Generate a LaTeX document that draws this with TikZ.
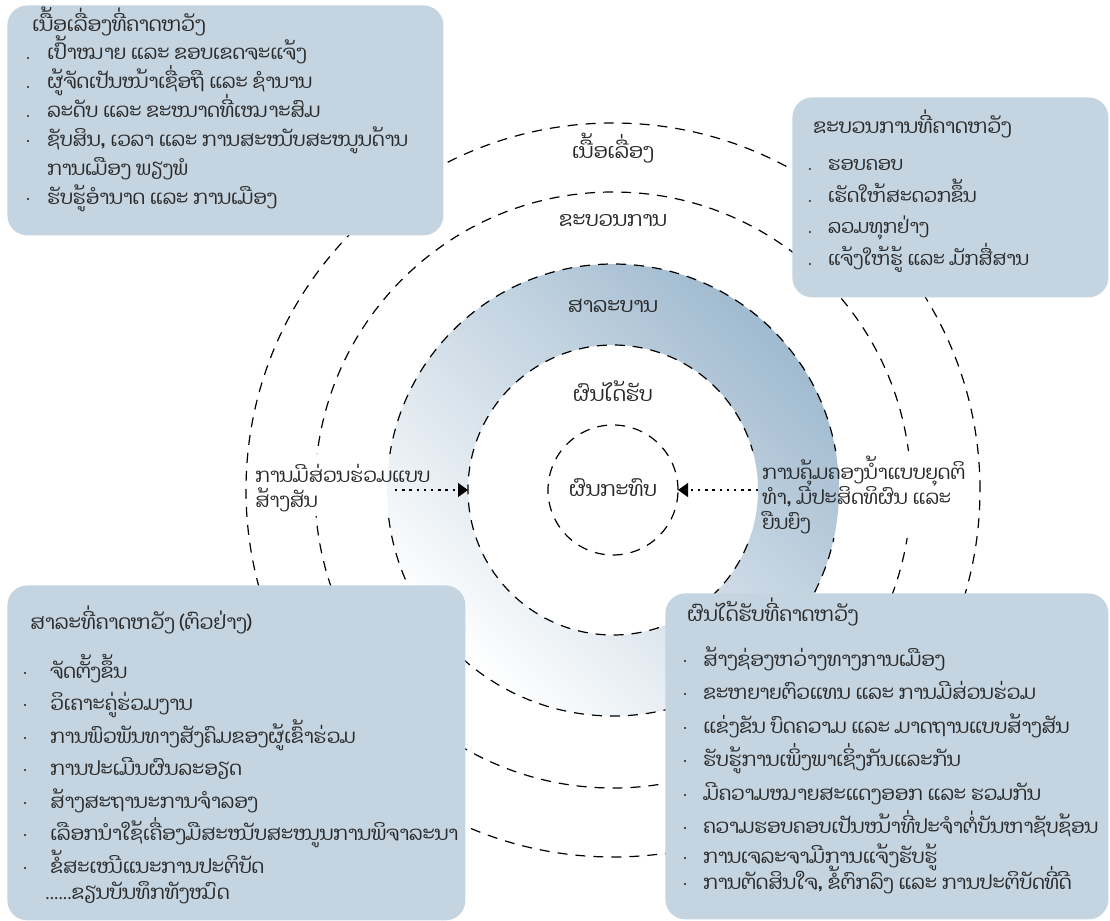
\documentclass[tikz,border=0pt]{standalone}
\usepackage{fontspec}
\newfontfamily\laofont[Script=Lao]{Dhyana}
\usetikzlibrary{arrows.meta}
\definecolor{boxblue}{RGB}{196,212,224}
\definecolor{ringblue}{RGB}{160,186,207}
\definecolor{inkgray}{RGB}{40,40,40}
\newcommand{\laotext}[2]{\laofont\fontsize{#1}{#2}\selectfont\lineskiplimit-50pt\relax}
\newcommand{\lowdot}[1][11pt]{\makebox[#1][l]{\normalfont .}}
\newcommand{\middot}[1][11pt]{\makebox[#1][l]{$\cdot$}}
\newcommand{\headline}[2][10]{\rule{0pt}{16pt}{\fontsize{#1}{14}\selectfont #2}}

\begin{document}
\begin{tikzpicture}[
        x=0.5pt, y=-0.5pt,
        font=\laotext{10.3}{12},
        orbit/.style={circle, draw=black, dash pattern=on 5pt off 4pt, line width=0.6pt, inner sep=0pt, outer sep=0pt},
        card/.style={anchor=north west, fill=boxblue, rounded corners=10pt, inner sep=0pt},
        list/.style={anchor=north west, align=left, inner sep=0pt, text=inkgray},
        tag/.style={anchor=base, inner sep=0pt, text=inkgray},
        note/.style={anchor=north west, align=left, inner sep=2pt, text=inkgray, font=\laotext{9.8}{12.5}},
        flow/.style={-{Triangle[length=5pt, width=7pt]}, line width=0.6pt, dash pattern=on 1.2pt off 2.4pt}
    ]

    % Page
    \useasboundingbox (0,0) rectangle (1110,921);

    % Shaded ring
    \coordinate (hub) at (613,490);
    \shade[even odd rule, left color=white, right color=ringblue, shading angle=135]
        (hub) circle[radius=226] (hub) circle[radius=145];

    % Side notes
    \node (partnote) at (251,454) [note] {\rule{0pt}{12pt}ການມີສ່ວນຮ່ວມແບບ\\ສ້າງສັນ};
    \node (rulenote) at (758,451) [note] {\rule{0pt}{12pt}ການຄຸ້ມຄອງນ້ຳແບບຍຸດຕິ\\ທຳ, ມີປະສິດທິຜົນ ແລະ\\ຍືນຍົງ};

    % Circles
    \begin{scope}[even odd rule]
        \clip (0,0) rectangle (1110,921)
            (partnote.south west) rectangle (partnote.north east)
            ([xshift=-4pt]rulenote.south west) rectangle (rulenote.north east);
        \node (impact)    at (hub) [orbit, minimum size=65pt] {};
        \node (outcome)   at (hub) [orbit, minimum size=145pt] {};
        \node (content)   at (hub) [orbit, minimum size=226pt] {};
        \node (process)   at (hub) [orbit, minimum size=298pt] {};
        \node (substance) at (hub) [orbit, minimum size=367pt] {};
    \end{scope}

    \node (substancetag) at (613,158) [tag] {ເນື້ອເລື່ອງ};
    \node (processtag)   at (613,226) [tag] {ຂະບວນການ};
    \node (contenttag)   at (613,312) [tag] {ສາລະບານ};
    \node (outcometag)   at (613,401) [tag] {ຜົນໄດ້ຮັບ};
    \node (impacttag)    at (613,496) [tag] {ຜົນກະທົບ};

    % Arrows
    \coordinate (partend) at (395,490);
    \draw[flow] (partend) -- (outcome.west);
    \draw[flow] (outcome.east) -- (impact.east);

    % Top left
    \node (substancecard) at (7,5) [card, minimum width=218pt, minimum height=115pt] {};
    \node (substancelist) at (25,-1) [list, font=\laotext{9.8}{14.5}] {%
        \hspace*{3.5pt}\headline{ເນື້ອເລື່ອງທີ່ຄາດຫວັງ}\\[-0.5pt]
        \lowdot ເປົ້າໝາຍ ແລະ ຂອບເຂດຈະແຈ້ງ\\
        \lowdot ຜູ້ຈັດເປັນໜ້າເຊື່ອຖື ແລະ ຊຳນານ\\
        \lowdot ລະດັບ ແລະ ຂະໜາດທີ່ເໝາະສົມ\\
        \middot ຊັບສິນ, ເວລາ ແລະ ການສະໜັບສະໜູນດ້ານ\\
        \hspace*{11pt}ການເມືອງ ພຽງພໍ\\
        \middot ຮັບຮູ້ອຳນາດ ແລະ ການເມືອງ};

    % Top right
    \node (processcard) at (792,97) [card, minimum width=158pt, minimum height=100pt] {};
    \node (processlist) at (807,101) [list, font=\laotext{9.5}{15.8}] {%
        \hspace*{3pt}\headline{ຂະບວນການທີ່ຄາດຫວັງ}\\[2.7pt]
        \lowdot[8pt] ຮອບຄອບ\\
        \lowdot[8pt] ເຮັດໃຫ້ສະດວກຂຶ້ນ\\
        \lowdot[8pt] ລວມທຸກຢ່າງ\\
        \lowdot[8pt] ແຈ້ງໃຫ້ຮູ້ ແລະ ມັກສື່ສານ};

    % Bottom left
    \node (contentcard) at (7,585) [card, minimum width=229pt, minimum height=167.5pt] {};
    \node (contentlist) at (22,597) [list, font=\laotext{9.8}{16.25}] {%
        \hspace*{4pt}\headline{ສາລະທີ່ຄາດຫວັງ (ຕົວຢ່າງ)}\\[8.25pt]
        \middot[11.5pt] ຈັດຕັ້ງຂຶ້ນ\\
        \middot[11.5pt] ວິເຄາະຄູ່ຮ່ວມງານ\\
        \middot[11.5pt] ການພົວພັນທາງສັງຄົມຂອງຜູ້ເຂົ້າຮ່ວມ\\
        \middot[11.5pt] ການປະເມີນຜົນລະອຽດ\\
        \middot[11.5pt] ສ້າງສະຖານະການຈຳລອງ\\
        \middot[11.5pt] ເລືອກນຳໃຊ້ເຄື່ອງມືສະໜັບສະໜູນການພິຈາລະນາ\\
        \middot[11.5pt] ຂໍ້ສະເໜີແນະການປະຕິບັດ\\[-3.25pt]
        \hspace*{11.5pt}......ຂຽນບັນທຶກທັງໝົດ};

    % Bottom right
    \node (outcomecard) at (665,593) [card, minimum width=221.5pt, minimum height=163pt] {};
    \node (outcomelist) at (682,589) [list, font=\laotext{9.8}{16.7}] {%
        \hspace*{2.5pt}\headline{ຜົນໄດ້ຮັບທີ່ຄາດຫວັງ}\\[5.8pt]
        \middot[8pt] ສ້າງຊ່ອງຫວ່າງທາງການເມືອງ\\
        \middot[8pt] ຂະຫຍາຍຕົວແທນ ແລະ ການມີສ່ວນຮ່ວມ\\
        \middot[8pt] ແຂ່ງຂັນ ບົດຄວາມ ແລະ ມາດຖານແບບສ້າງສັນ\\
        \middot[8pt] ຮັບຮູ້ການເພິ່ງພາເຊິ່ງກັນແລະກັນ\\
        \middot[8pt] ມີຄວາມໝາຍສະແດງອອກ ແລະ ຮວມກັນ\\
        \middot[8pt] ຄວາມຮອບຄອບເປັນໜ້າທີ່ປະຈຳຕໍ່ບັນຫາຊັບຊ້ອນ\\[-1.7pt]
        \middot[8pt] ການເຈລະຈາມີການແຈ້ງຮັບຮູ້\\[-3.7pt]
        \middot[8pt] ການຕັດສິນໃຈ, ຂໍ້ຕົກລົງ ແລະ ການປະຕິບັດທີ່ດີ};

\end{tikzpicture}
\end{document}
